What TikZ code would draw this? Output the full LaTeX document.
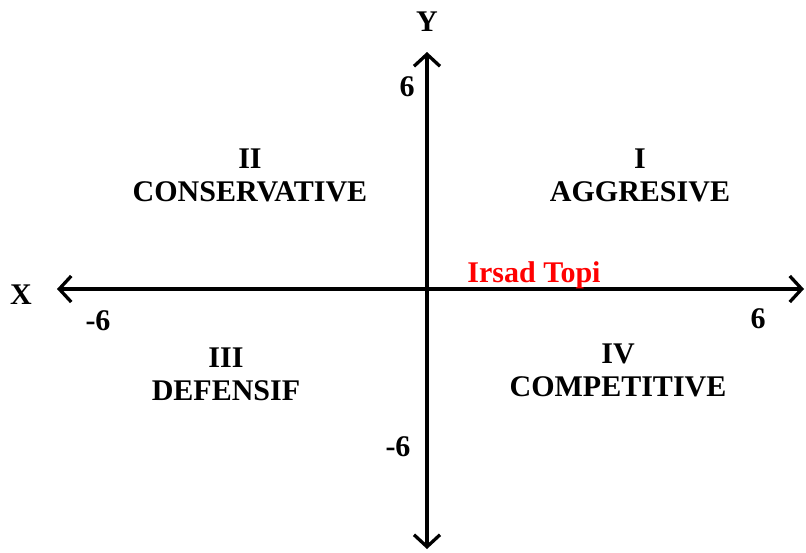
\documentclass[tikz,border=0pt]{standalone}
\usepackage{fontspec}
\setmainfont{Liberation Serif}
\usetikzlibrary{arrows.meta}
\definecolor{axisblack}{HTML}{000000}
\definecolor{namered}{HTML}{FF0000}

\begin{document}
\begin{tikzpicture}[x=1pt, y=-1pt,
    lbl/.style={font=\fontsize{30}{33}\selectfont\bfseries, inner sep=0pt, align=center},
    axis/.style={line width=3.3pt, axisblack, {Straight Barb[length=12pt, width=26pt]}-{Straight Barb[length=12pt, width=26pt]}}]
  \useasboundingbox (0,0) rectangle (806,552);

  % Sumbu X dan Y
  \coordinate (xl) at (57,289);
  \coordinate (xr) at (804,289);
  \coordinate (yt) at (427,52);
  \coordinate (yb) at (427,549);
  \draw[axis] (xl) -- (xr);
  \draw[axis] (yb) -- (yt);

  % Nama sumbu
  \node[lbl] (ynama) at (427,22) {Y};
  \node[lbl] (xnama) at (21,295) {X};

  % Skala
  \node[lbl] (ypos) at (407,87) {6};
  \node[lbl] (yneg) at (398,447) {-6};
  \node[lbl] (xneg) at (98,321) {-6};
  \node[lbl] (xpos) at (758,319) {6};

  % Kuadran
  \node[lbl] (kuadI) at (640,175) {I\\AGGRESIVE};
  \node[lbl] (kuadII) at (250,175) {II\\CONSERVATIVE};
  \node[lbl] (kuadIII) at (226,374) {III\\DEFENSIF};
  \node[lbl] (kuadIV) at (618,370) {IV\\COMPETITIVE};

  % Titik posisi
  \node[lbl, namered] (titik) at (534,275) {Irsad Topi};
\end{tikzpicture}
\end{document}
